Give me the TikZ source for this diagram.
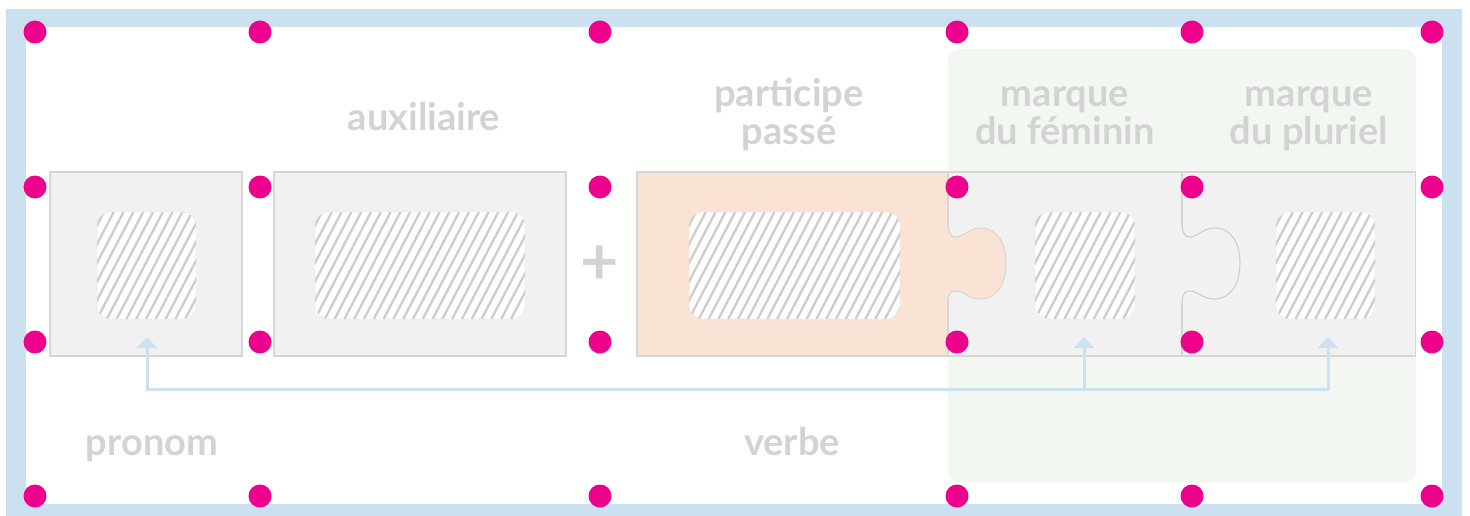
\documentclass[tikz,border=0pt]{standalone}
\usepackage{fontspec}
\setmainfont{Lato}
\usetikzlibrary{arrows.meta}
\definecolor{frameblue}{HTML}{CCE1EF}
\definecolor{connblue}{HTML}{CDE2F1}
\definecolor{dotmag}{HTML}{EC008C}
\definecolor{pgray}{HTML}{F0F1F0}
\definecolor{pborder}{HTML}{D6D6D6}
\definecolor{knobline}{HTML}{CBCBCB}
\definecolor{peach}{HTML}{FAE2D4}
\definecolor{grpgreen}{HTML}{F2F7F1}
\definecolor{hatchgray}{HTML}{CDCDCD}
\definecolor{hpink}{HTML}{F6CFE0}
\definecolor{txtgray}{HTML}{D3D3D3}
\begin{document}
\begin{tikzpicture}[x=1pt,y=-1pt,
  >={Triangle[width=20pt, length=11pt]},
  piece/.style={draw=pborder, line width=1.5pt, fill=pgray, inner sep=0pt, minimum height=184pt},
  hatchbox/.style={fill=white, draw=hpink, dotted, line width=0.6pt, rounded corners=14pt, inner sep=0pt, minimum height=107pt,
    path picture={\foreach \i in {-7,...,23}{\draw[solid, line width=2.3pt, hatchgray] ([xshift=\i*9.8pt]path picture bounding box.south west) -- ++(56,-107);}}},
  lbl/.style={text=txtgray, font=\fontsize{38}{37.5}\selectfont\bfseries, inner sep=0pt, anchor=base, align=center},
  conn/.style={draw=connblue, line width=3pt},
  mdot/.style={fill=dotmag}
]
\useasboundingbox (0,0) rectangle (1470,516);
% frame
\fill[frameblue] (6,9) rectangle (1462,516);
\fill[white] (26,27) rectangle (1442,503.5);
% group background
\fill[grpgreen, rounded corners=12pt] (948,49) rectangle (1416,482.5);
% pieces
\node[piece, minimum width=192pt] (bPron) at (146,264) {};
\node[piece, minimum width=292pt] (bAux) at (420,264) {};
\node[piece, minimum width=311pt, fill=peach] (bPart) at (792.5,264) {};
\node[piece, minimum width=234pt] (bFem) at (1065,264) {};
\node[piece, minimum width=233.5pt] (bPlu) at (1298.75,264) {};
% knobs
\begin{scope}[xshift=948pt]
  \fill[peach] (-1.5,226) -- (0,226) .. controls (0,233) and (4,238) .. (9,237)
    .. controls (16,236) and (22,228) .. (32,228)
    .. controls (50,228) and (58,244) .. (58,263)
    .. controls (58,282) and (50,299) .. (32,299)
    .. controls (22,299) and (16,292) .. (9,291)
    .. controls (4,290) and (0,294) .. (0,301) -- (-1.5,301) -- cycle;
  \draw[pborder, line width=1pt] (0,226) .. controls (0,233) and (4,238) .. (9,237)
    .. controls (16,236) and (22,228) .. (32,228)
    .. controls (50,228) and (58,244) .. (58,263)
    .. controls (58,282) and (50,299) .. (32,299)
    .. controls (22,299) and (16,292) .. (9,291)
    .. controls (4,290) and (0,294) .. (0,301);
\end{scope}
\begin{scope}[xshift=1182pt]
  \fill[pgray] (-1.5,226) -- (0,226) .. controls (0,233) and (4,238) .. (9,237)
    .. controls (16,236) and (22,228) .. (32,228)
    .. controls (50,228) and (58,244) .. (58,263)
    .. controls (58,282) and (50,299) .. (32,299)
    .. controls (22,299) and (16,292) .. (9,291)
    .. controls (4,290) and (0,294) .. (0,301) -- (-1.5,301) -- cycle;
  \draw[knobline, line width=1pt] (0,226) .. controls (0,233) and (4,238) .. (9,237)
    .. controls (16,236) and (22,228) .. (32,228)
    .. controls (50,228) and (58,244) .. (58,263)
    .. controls (58,282) and (50,299) .. (32,299)
    .. controls (22,299) and (16,292) .. (9,291)
    .. controls (4,290) and (0,294) .. (0,301);
\end{scope}
% hatched slots
\node[hatchbox, minimum width=99pt] (hPron) at (146.5,265.5) {};
\node[hatchbox, minimum width=210pt] (hAux) at (420,265.5) {};
\node[hatchbox, minimum width=211pt] (hPart) at (794.5,265.5) {};
\node[hatchbox, minimum width=100pt] (hFem) at (1085,265.5) {};
\node[hatchbox, minimum width=99pt] (hPlu) at (1325.5,265.5) {};
% connectors
\coordinate (jA) at (147,389);
\coordinate (jD) at (1084,389);
\coordinate (jE) at (1328,389);
\coordinate (tA) at (147,337);
\coordinate (tD) at (1084,337);
\coordinate (tE) at (1328,337);
\draw[conn, <->] (tA) -- (jA) -- (jE) -- (tE);
\draw[conn, ->] (jD) -- (tD);
% dots
\foreach \x in {35,260,600,957,1192,1432}{
  \foreach \y in {32,187,342,496}{
    \fill[mdot] (\x,\y) circle (11.5);
  }
}
% labels
\node[lbl] (tAux) at (424,131) {auxiliaire};
\node[lbl] (tPart) at (789,144.5) {participe\\passé};
\node[lbl] (tFem) at (1065,144.5) {marque\\du féminin};
\node[lbl] (tPlu) at (1309,144.5) {marque\\du pluriel};
\node[lbl] (tPron) at (152,455) {pronom};
\node[lbl] (tVerb) at (792,455) {verbe};
\node[text=txtgray, font=\fontsize{66}{66}\selectfont\bfseries, inner sep=0pt] (plus) at (600,265) {+};
\end{tikzpicture}
\end{document}
